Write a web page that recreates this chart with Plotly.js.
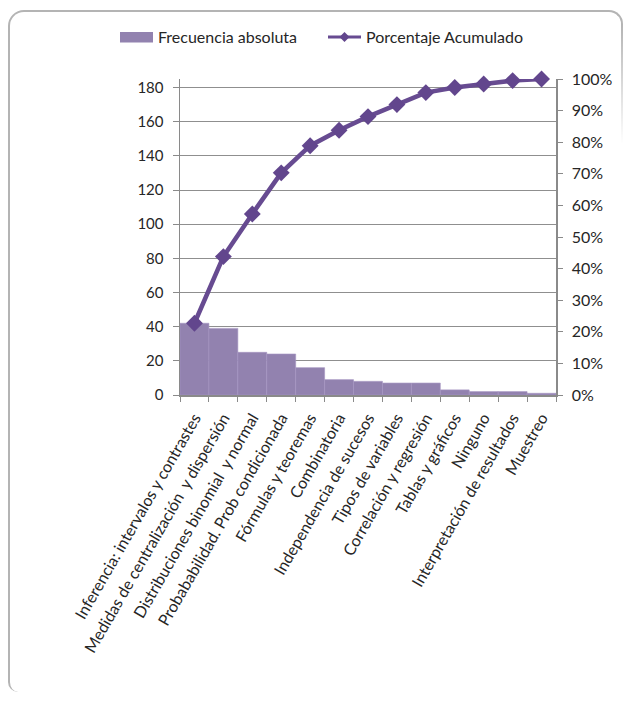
<!DOCTYPE html>
<html>
<head>
<meta charset="utf-8">
<script src="https://cdn.plot.ly/plotly-3.0.1.min.js"></script>
<style>
  html, body { margin: 0; padding: 0; background: #ffffff; }
  #wrap { position: relative; width: 627px; height: 702px; overflow: hidden; }
  #chart { position: absolute; left: 0; top: 0; width: 627px; height: 702px; }
  #frame {
    position: absolute; left: 8px; top: 10px; width: 615px; height: 682px;
    border-left: 2px solid #b4b4b4; border-top: 2px solid #b4b4b4; border-right: 2px solid #b4b4b4;
    border-top-left-radius: 16px; border-top-right-radius: 14px; border-bottom-left-radius: 10px;
    pointer-events: none; box-sizing: border-box;
  }
  #fade {
    position: absolute; left: 612px; top: 24px; width: 15px; height: 678px;
    background: linear-gradient(to bottom, rgba(255,255,255,0) 0px, #ffffff 120px);
    pointer-events: none;
  }
</style>
</head>
<body>
<div id="wrap">
  <div id="chart"></div>
  <div id="frame"></div>
  <div id="fade"></div>
</div>
<script>
const categories = [
  "Inferencia: intervalos y contrastes",
  "Medidas de centralización  y dispersión",
  "Distribuciones binomial  y normal",
  "Probababilidad. Prob condicionada",
  "Fórmulas y teoremas",
  "Combinatoria",
  "Independencia de sucesos",
  "Tipos de variables",
  "Correlación y regresión",
  "Tablas y gráficos",
  "Ninguno",
  "Interpretación de resultados",
  "Muestreo"
];
const frecuenciaAbsoluta = [42, 39, 25, 24, 16, 9, 8, 7, 7, 3, 2, 2, 1];
const porcentajeAcumulado = [0.227, 0.438, 0.573, 0.703, 0.789, 0.838, 0.881, 0.919, 0.957, 0.973, 0.984, 0.995, 1.0];
const leftTicks = [0, 20, 40, 60, 80, 100, 120, 140, 160, 180];
const rightTicks = [0, 0.1, 0.2, 0.3, 0.4, 0.5, 0.6, 0.7, 0.8, 0.9, 1.0];
const seriesNames = ["Frecuencia absoluta", "Porcentaje Acumulado"];

const FONT = "Lato, 'Open Sans', sans-serif";
const TXT = "#262626";
const BAR = "#9282af";
const LINE = "#674b91";

// plot area in pixels (for placing the hand-made legend)
const M = { l: 180, r: 71, t: 79, b: 307 };
const W = 627, H = 702;
const PW = W - M.l - M.r, PH = H - M.t - M.b;
const px = v => (v - M.l) / PW;
const py = v => (H - M.b - v) / PH;

const traces = [
  {
    type: "bar",
    name: seriesNames[0],
    x: categories,
    y: frecuenciaAbsoluta,
    marker: { color: BAR, line: { color: "#a696c2", width: 0.6 } },
    showlegend: false
  },
  {
    type: "scatter",
    mode: "lines+markers",
    name: seriesNames[1],
    x: categories,
    y: porcentajeAcumulado,
    yaxis: "y2",
    cliponaxis: false,
    line: { color: LINE, width: 4.5 },
    marker: { symbol: "diamond", size: 13, color: "#62468d" },
    showlegend: false
  }
];

const legendShapes = [
  { type: "rect", xref: "paper", yref: "paper",
    x0: px(120), x1: px(153), y0: py(42.5), y1: py(32),
    fillcolor: BAR, line: { width: 0 } },
  { type: "line", xref: "paper", yref: "paper",
    x0: px(328), x1: px(361), y0: py(37), y1: py(37),
    line: { color: LINE, width: 3 } },
  { type: "path", xref: "paper", yref: "paper",
    path: `M ${px(344.5)},${py(32)} L ${px(349.5)},${py(37)} L ${px(344.5)},${py(42)} L ${px(339.5)},${py(37)} Z`,
    fillcolor: "#62468d", line: { width: 0 } }
];

const legendText = [
  { xref: "paper", yref: "paper", x: px(156), y: py(37), xanchor: "left", yanchor: "middle",
    text: seriesNames[0], showarrow: false, font: { family: FONT, size: 16, color: TXT } },
  { xref: "paper", yref: "paper", x: px(364), y: py(37), xanchor: "left", yanchor: "middle",
    text: seriesNames[1], showarrow: false, font: { family: FONT, size: 16, color: TXT } }
];

const layout = {
  width: W,
  height: H,
  margin: M,
  paper_bgcolor: "#ffffff",
  plot_bgcolor: "#ffffff",
  font: { family: FONT, size: 15, color: TXT },
  bargap: 0,
  showlegend: false,
  shapes: legendShapes,
  annotations: legendText,
  xaxis: {
    type: "category",
    range: [-0.5, categories.length - 0.5],
    tickangle: -60,
    tickfont: { family: FONT, size: 16, color: TXT },
    showgrid: false,
    showline: true,
    linecolor: "#8a8a8a",
    linewidth: 1.5,
    ticks: "outside",
    tickson: "boundaries",
    ticklen: 5,
    tickcolor: "#8a8a8a",
    ticklabelstandoff: 6,
    zeroline: false,
    fixedrange: true
  },
  yaxis: {
    range: [0, 185],
    tickvals: leftTicks,
    ticktext: leftTicks.map(String),
    tickfont: { family: FONT, size: 15, color: TXT },
    showgrid: true,
    gridcolor: "#8f8f8f",
    gridwidth: 1,
    showline: true,
    linecolor: "#8a8a8a",
    linewidth: 1.5,
    ticks: "outside",
    ticklen: 6,
    tickcolor: "#8a8a8a",
    ticklabelstandoff: 6,
    zeroline: false,
    fixedrange: true
  },
  yaxis2: {
    overlaying: "y",
    side: "right",
    range: [0, 1],
    tickvals: rightTicks,
    ticktext: rightTicks.map(v => Math.round(v * 100) + "%"),
    tickfont: { family: FONT, size: 16, color: TXT },
    showgrid: false,
    showline: true,
    linecolor: "#8a8a8a",
    linewidth: 1.5,
    ticks: "outside",
    ticklen: 5,
    tickcolor: "#8a8a8a",
    ticklabelstandoff: 6,
    zeroline: false,
    fixedrange: true
  }
};

Plotly.newPlot("chart", traces, layout, { displayModeBar: false, staticPlot: true });
</script>
</body>
</html>
